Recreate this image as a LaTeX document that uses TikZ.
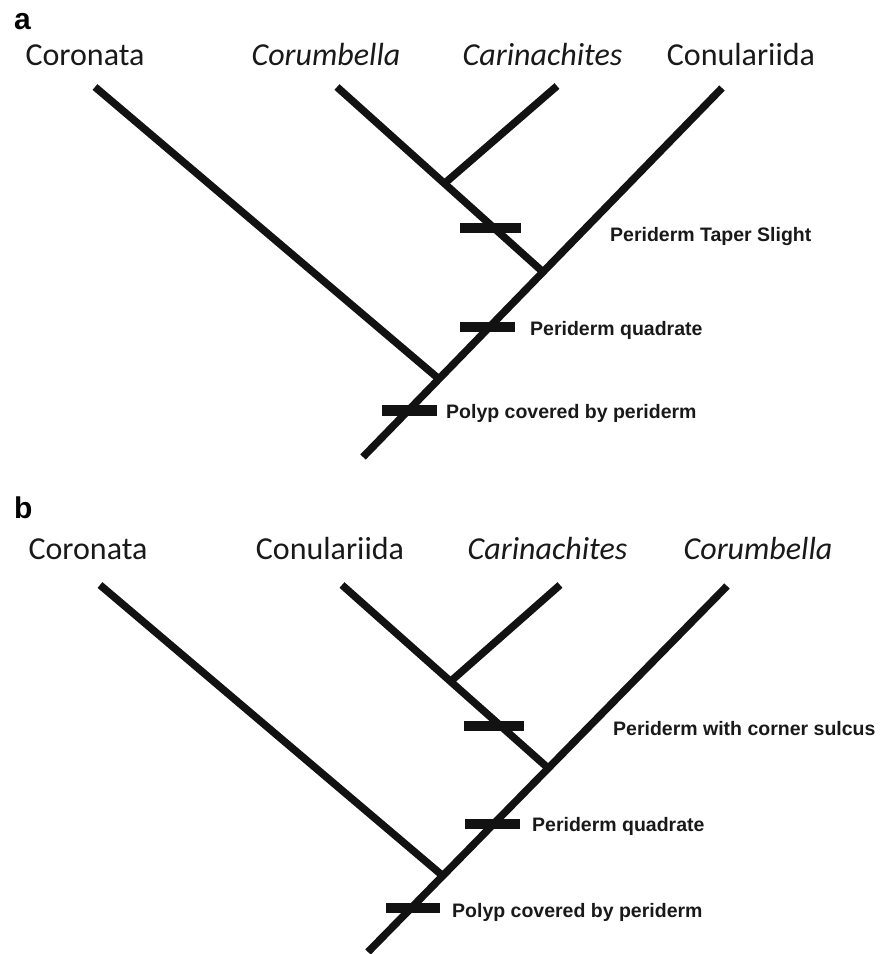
\documentclass[tikz,border=0pt]{standalone}
\usepackage{fontspec}
\setmainfont{Carlito}
\newfontfamily\notefont{Liberation Sans}
\begin{document}
\begin{tikzpicture}[x=1pt,y=-1pt,
  branch/.style={line width=7.5pt, line cap=butt, color=black!93},
  synapo/.style={line width=10.5pt, line cap=butt, color=black!93},
  taxon/.style={anchor=base, inner sep=0pt, font=\fontsize{32}{36}\selectfont, text=black!90},
  taxonit/.style={taxon, font=\fontsize{32}{36}\selectfont\itshape},
  note/.style={anchor=base west, inner sep=0pt, font=\notefont\bfseries\fontsize{19.5}{22}\selectfont, text=black!90},
  panel/.style={anchor=base west, inner sep=0pt, font=\notefont\bfseries\fontsize{30}{34}\selectfont}]
\useasboundingbox (0,0) rectangle (889,954);

% ---------------- panel a ----------------
\node[panel] (pa) at (14,29) {a};
\node[taxon]   (aCoro) at (85,65)    {Coronata};
\node[taxonit] (aCorum) at (326,65)  {Corumbella};
\node[taxonit] (aCari) at (542.5,65) {Carinachites};
\node[taxon]   (aConu) at (741,65)   {Conulariida};

\coordinate (atCoro)  at (95,87);
\coordinate (atCorum) at (337,87);
\coordinate (atCari)  at (557,86);
\coordinate (atConu)  at (722,88);
\coordinate (aroot)   at (363,457);
\coordinate (aj1)     at (439,379);
\coordinate (aj2)     at (543,272);
\coordinate (aj3)     at (445,183);

\draw[branch] (aroot) -- (atConu);
\draw[branch] (atCoro) -- (aj1);
\draw[branch] (atCorum) -- (aj2);
\draw[branch] (atCari) -- (aj3);

\coordinate (ab1l) at (460,228);   \coordinate (ab1r) at (521,228);
\coordinate (ab2l) at (460,327);   \coordinate (ab2r) at (515,327);
\coordinate (ab3l) at (382,410.5); \coordinate (ab3r) at (437,410.5);
\draw[synapo] (ab1l) -- (ab1r);
\draw[synapo] (ab2l) -- (ab2r);
\draw[synapo] (ab3l) -- (ab3r);

\node[note] (an1) at (610,241) {Periderm Taper Slight};
\node[note] (an2) at (530,335) {Periderm quadrate};
\node[note] (an3) at (446,418) {Polyp covered by periderm};

% ---------------- panel b ----------------
\node[panel] (pb) at (14,518) {b};
\node[taxon]   (bCoro) at (88,559)    {Coronata};
\node[taxon]   (bConu) at (330,559)   {Conulariida};
\node[taxonit] (bCari) at (547.5,559) {Carinachites};
\node[taxonit] (bCorum) at (758,559)  {Corumbella};

\coordinate (btCoro)  at (100,585);
\coordinate (btConu)  at (342,585);
\coordinate (btCari)  at (560,585);
\coordinate (btCorum) at (727,586);
\coordinate (broot)   at (368,952);
\coordinate (bj1)     at (443,876);
\coordinate (bj2)     at (548,768);
\coordinate (bj3)     at (451,681);

\draw[branch] (broot) -- (btCorum);
\draw[branch] (btCoro) -- (bj1);
\draw[branch] (btConu) -- (bj2);
\draw[branch] (btCari) -- (bj3);

\coordinate (bb1l) at (464,726); \coordinate (bb1r) at (524,726);
\coordinate (bb2l) at (465,824); \coordinate (bb2r) at (520,824);
\coordinate (bb3l) at (386,908); \coordinate (bb3r) at (440,908);
\draw[synapo] (bb1l) -- (bb1r);
\draw[synapo] (bb2l) -- (bb2r);
\draw[synapo] (bb3l) -- (bb3r);

\node[note] (bn1) at (613,735) {Periderm with corner sulcus};
\node[note] (bn2) at (532,831) {Periderm quadrate};
\node[note] (bn3) at (452,917) {Polyp covered by periderm};
\end{tikzpicture}
\end{document}
